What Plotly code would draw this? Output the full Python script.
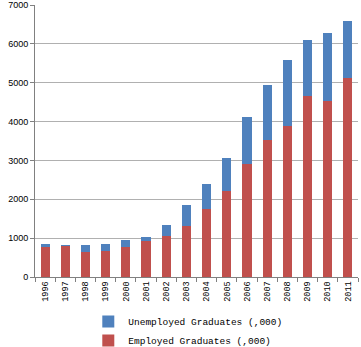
import plotly.graph_objects as go

years = ["1996","1997","1998","1999","2000","2001","2002","2003","2004","2005",
         "2006","2007","2008","2009","2010","2011"]
employed = [772, 800, 643, 678, 781, 918, 1064, 1312, 1741, 2222, 2908, 3517, 3895, 4650, 4538, 5130]
totals = [841, 815, 815, 841, 944, 1021, 1330, 1861, 2385, 3054, 4126, 4941, 5585, 6099, 6288, 6597]
unemployed = [t - e for t, e in zip(totals, employed)]
y_ticks = [0, 1000, 2000, 3000, 4000, 5000, 6000, 7000]

mono = "Liberation Mono, Courier New, monospace"

fig = go.Figure()
fig.add_trace(go.Bar(x=years, y=employed, name="Employed Graduates (,000)",
                     marker=dict(color="#C0504D", line=dict(width=0)), width=0.45))
fig.add_trace(go.Bar(x=years, y=unemployed, name="Unemployed Graduates (,000)",
                     marker=dict(color="#4F81BD", line=dict(width=0)), width=0.45))

fig.update_layout(
    barmode="stack",
    width=361, height=347,
    margin=dict(l=35, r=3, t=5, b=70, autoexpand=False),
    paper_bgcolor="white", plot_bgcolor="white",
    showlegend=True,
    legend=dict(orientation="v", traceorder="reversed", x=0.165, xanchor="left",
                y=-0.11, yanchor="top",
                bgcolor="rgba(0,0,0,0)",
                font=dict(family=mono, size=9.5, color="#000"),
                tracegroupgap=0),
    xaxis=dict(type="category", tickangle=-90, showgrid=False, automargin=False,
               showline=True, linecolor="#808080", linewidth=1,
               ticks="outside", ticklen=4, tickcolor="#808080", tickson="boundaries",
               tickfont=dict(family=mono, size=8.5, color="#000")),
    yaxis=dict(range=[0, 7000], tickvals=y_ticks, ticktext=[str(v) for v in y_ticks],
               showgrid=True, gridcolor="#B0B0B0", gridwidth=1, automargin=False,
               showline=True, linecolor="#808080", linewidth=1,
               ticks="outside", ticklen=4, tickcolor="#808080",
               zeroline=False,
               tickfont=dict(family="Liberation Sans, Arial, sans-serif", size=9, color="#000")),
)

fig.write_html("out.html", config={"displayModeBar": False},
               post_script="document.body.style.margin='0';document.body.style.padding='0';")
